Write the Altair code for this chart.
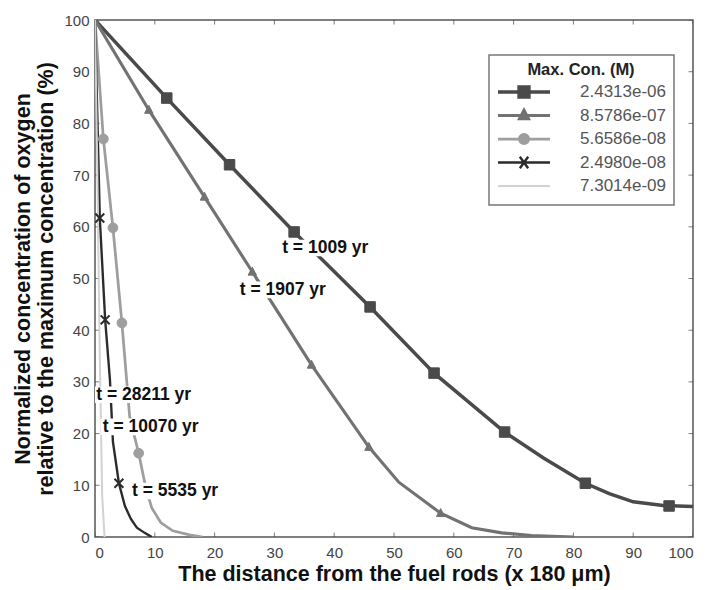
import altair as alt
import pandas as pd

# ---------------- data ----------------
SERIES = ["2.4313e-06", "8.5786e-07", "5.6586e-08", "2.4980e-08", "7.3014e-09"]
COLORS = ["#4a4a4a", "#727272", "#9e9e9e", "#2b2b2b", "#d2d2d2"]
WIDTHS = [3.5, 2.0, 3.0, 2.6, 2.5]

# line curves (distance x, normalized concentration %)
S1_X = [0, 12, 22.5, 33.3, 46, 56.7, 68.5, 75, 82, 86, 90, 95, 100]
S1_Y = [100, 84.9, 72, 59, 44.5, 31.7, 20.3, 15.3, 10.4, 8.4, 6.8, 6.1, 5.9]
S2_X = [0, 9, 18.3, 26.3, 36.2, 45.8, 50.8, 57.8, 63, 68, 73, 80]
S2_Y = [100, 82.6, 65.8, 51.3, 33.3, 17.4, 10.6, 4.6, 1.8, 0.8, 0.3, 0]
S3_X = [0, 1.4, 3.0, 4.5, 5.8, 7.3, 8.5, 9.5, 11, 13, 15.8, 18]
S3_Y = [100, 77, 59.8, 41.4, 23.2, 16.2, 9.5, 5.6, 2.8, 1.2, 0.4, 0]
S4_X = [0, 0.8, 1.7, 2.5, 3.0, 4.0, 5.0, 6.0, 7.0, 8.3, 9.5]
S4_Y = [100, 61.7, 42, 30.4, 18.4, 10.4, 6.0, 3.5, 1.8, 0.8, 0]
S5_X = [0, 0.4, 0.8, 1.2, 1.6]
S5_Y = [100, 70, 35, 8, 0]

# marker positions
M1_X = [12, 22.5, 33.3, 46, 56.7, 68.5, 82, 96]
M1_Y = [84.9, 72, 59, 44.5, 31.7, 20.3, 10.4, 6.0]
M2_X = [9, 18.3, 26.3, 36.2, 45.8, 57.8]
M2_Y = [82.6, 65.8, 51.3, 33.3, 17.4, 4.6]
M3_X = [1.4, 3.0, 4.5, 7.3]
M3_Y = [77, 59.8, 41.4, 16.2]
M4_X = [0.8, 1.7, 4.0]
M4_Y = [61.7, 42, 10.4]

# annotations
LABEL_TEXT = ["t = 1009 yr", "t = 1907 yr", "t = 28211 yr", "t = 10070 yr", "t = 5535 yr"]
LABEL_X = [31.3, 24.2, 0.2, 1.3, 6.2]
LABEL_Y = [55.9, 47.8, 27.5, 21.3, 8.9]

XTICKS = list(range(0, 101, 10))
YTICKS = list(range(0, 101, 10))

LEGEND_TITLE = "Max. Con. (M)"

# ---------------- frames ----------------
curves = [(S1_X, S1_Y), (S2_X, S2_Y), (S3_X, S3_Y), (S4_X, S4_Y), (S5_X, S5_Y)]
rows = []
for name, (xs_, ys_) in zip(SERIES, curves):
    for xv, yv in zip(xs_, ys_):
        rows.append({"series": name, "x": xv, "y": yv})
lines_df = pd.DataFrame(rows)

marks = [(M1_X, M1_Y), (M2_X, M2_Y), (M3_X, M3_Y), (M4_X, M4_Y)]
labels_df = pd.DataFrame({"text": LABEL_TEXT, "x": LABEL_X, "y": LABEL_Y})
legend_df = pd.DataFrame({"series": SERIES})

FONT = "Liberation Sans"
xs = alt.Scale(domain=[0, 100], nice=False, zero=False)
ys = alt.Scale(domain=[0, 100], nice=False, zero=False)

legend = alt.Legend(title=LEGEND_TITLE)
color_scale = alt.Scale(domain=SERIES, range=COLORS)
width_scale = alt.Scale(domain=SERIES, range=WIDTHS)

PLOT_SHAPES = [
    "M-1,-1H1V1H-1Z",
    "M0,-1.1L1,0.8H-1Z",
    "circle",
    "M-1,-1L1,1M-1,1L1,-1",
]
PLOT_SIZES = [110, 70, 95, 80]
PLOT_SW = [1, 1, 1, 2]

LEG_SHAPES = [
    "M-1,0H1M-0.19,-0.19H0.19V0.19H-0.19Z",
    "M-1,0H1M0,-0.2L0.17,0.12H-0.17Z",
    "M-1,0H1M0.18,0A0.18,0.18,0,1,1,-0.18,0A0.18,0.18,0,1,1,0.18,0Z",
    "M-1,0H1M-0.16,-0.22L0.16,0.22M-0.16,0.22L0.16,-0.22",
    "M-1,0H1",
]

base_x = alt.X("x:Q", scale=xs,
               axis=alt.Axis(title="The distance from the fuel rods (x 180 \u03bcm)", values=XTICKS,
                             grid=False, ticks=False, domain=False, labelPadding=8,
                             titlePadding=3, format="d"))
base_y = alt.Y("y:Q", scale=ys,
               axis=alt.Axis(title=["Normalized concentration of oxygen",
                                    "relative to the maximum concentration (%)"],
                             values=YTICKS, grid=False, ticks=False, domain=False,
                             labelPadding=6, titlePadding=6, format="d"))

xt_df = pd.DataFrame([{"x": v, "y": e} for v in XTICKS for e in (0, 100)])
yt_df = pd.DataFrame([{"x": e, "y": v} for v in YTICKS for e in (0, 100)])
xt_layer = alt.Chart(xt_df).mark_tick(orient="vertical", size=9, thickness=1, color="#444",
                                      clip=True).encode(x=base_x, y=base_y)
yt_layer = alt.Chart(yt_df).mark_tick(orient="horizontal", size=9, thickness=1, color="#444",
                                      clip=True).encode(x=base_x, y=base_y)

line_layer = alt.Chart(lines_df).mark_line(clip=True).encode(
    x=base_x, y=base_y,
    color=alt.Color("series:N", scale=color_scale, legend=legend),
    strokeWidth=alt.StrokeWidth("series:O", scale=width_scale, legend=legend),
    detail="series:N",
)

point_layers = []
for i, (mx, my) in enumerate(marks):
    dfm = pd.DataFrame({"x": mx, "y": my})
    point_layers.append(
        alt.Chart(dfm).mark_point(shape=PLOT_SHAPES[i], size=PLOT_SIZES[i], filled=False,
                                  fill=COLORS[i] if i != 3 else "transparent",
                                  stroke=COLORS[i], strokeWidth=PLOT_SW[i], opacity=1,
                                  clip=True)
        .encode(x=base_x, y=base_y)
    )

box_layer = alt.Chart(labels_df).transform_calculate(
    x0="datum.x - 0.4", x1="datum.x + length(datum.text) * 1.38",
    y0="datum.y - 1.6", y1="datum.y + 1.6",
).mark_rect(fill="white", opacity=1, clip=True).encode(
    x=alt.X("x0:Q", scale=xs), x2="x1:Q",
    y=alt.Y("y0:Q", scale=ys), y2="y1:Q",
)

text_layer = alt.Chart(labels_df).mark_text(
    align="left", baseline="middle", font=FONT, fontSize=17.5, fontWeight="bold", color="#111"
).encode(x=alt.X("x:Q", scale=xs), y=alt.Y("y:Q", scale=ys), text="text:N")

legend_layer = alt.Chart(legend_df).mark_point(filled=True, opacity=1, clip=True).encode(
    x=alt.value(-300), y=alt.value(-300),
    color=alt.Color("series:N", scale=color_scale, legend=legend),
    stroke=alt.Stroke("series:N", scale=color_scale, legend=legend),
    shape=alt.Shape("series:N", scale=alt.Scale(domain=SERIES, range=LEG_SHAPES), legend=legend),
    strokeWidth=alt.StrokeWidth("series:O", scale=width_scale, legend=legend),
)

chart = alt.layer(
    xt_layer, yt_layer, line_layer, *point_layers, box_layer, text_layer, legend_layer
).properties(
    width=598, height=517,
    background="white",
    autosize=alt.AutoSizeParams(type="none"),
    padding={"left": 95, "top": 20, "right": 18, "bottom": 53},
).configure_view(
    stroke="#555", strokeWidth=1.5
).configure_axis(
    labelFont=FONT, labelFontSize=15, labelColor="#444",
    titleFont=FONT, titleFontSize=21.5, titleFontWeight="bold", titleColor="#111",
    titleLineHeight=23,
).configure_legend(
    orient="none", legendX=394, legendY=35,
    strokeColor="#777", strokeWidth=1.5, fillColor="white",
    padding=7, titleAnchor="middle", titleFont=FONT, titleFontSize=16.5, titleFontWeight="bold",
    titleColor="#222", titlePadding=2,
    labelFont=FONT, labelFontSize=17, labelColor="#555", labelOffset=28,
    symbolSize=2704, clipHeight=23, rowPadding=0.5, symbolOpacity=1,
)

chart.save("out.html", embed_options={"renderer": "svg", "actions": False})
